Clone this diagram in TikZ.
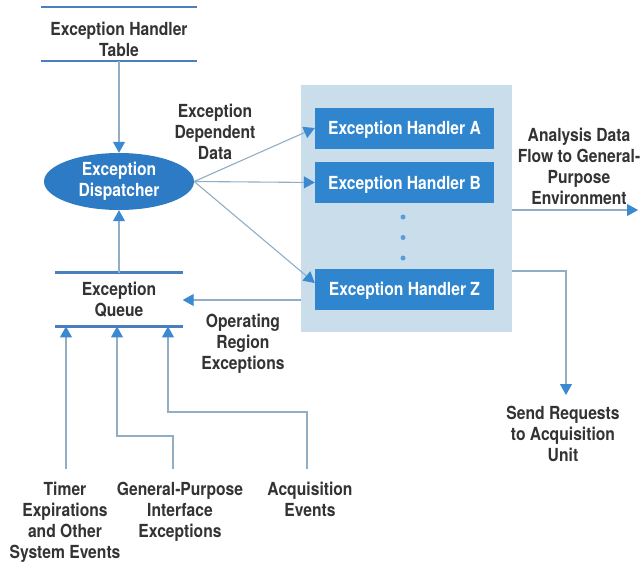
\documentclass[tikz,border=0pt]{standalone}
\usepackage{fontspec}
\setmainfont{TeX Gyre Heros}[FakeStretch=0.87]
\usetikzlibrary{arrows.meta,shapes.geometric,calc}
\definecolor{boxblue}{HTML}{2F86CF}
\definecolor{ellblue}{HTML}{2D7BC4}
\definecolor{panelcol}{HTML}{C9DDEA}
\definecolor{linecol}{HTML}{92AEC4}
\definecolor{arrowcol}{HTML}{3B8AD1}
\definecolor{rulecol}{HTML}{4A7EC1}
\definecolor{txt}{HTML}{333333}
\begin{document}
\begin{tikzpicture}[x=1pt,y=-1pt,
  lbl/.style={font=\fontsize{18}{21}\selectfont\bfseries, text=txt, align=center, inner sep=0pt, anchor=north},
  handler/.style={fill=boxblue, text=white, font=\fontsize{18}{21}\selectfont\bfseries, minimum width=179pt, minimum height=41pt, text height=13pt, text depth=0pt, inner sep=0pt},
  conn/.style={draw=linecol, line width=1.1pt},
  arr/.style={conn, -{Triangle[length=11pt,width=12pt,color=arrowcol]}},
  rulel/.style={draw=rulecol, line width=2.8pt},
  dotmark/.style={circle, fill=arrowcol!85, inner sep=0pt, minimum size=5pt}]

\useasboundingbox (0,0) rectangle (642,562);
\fill[white] (0,0) rectangle (642,562);

% panel and handlers
\node[fill=panelcol, minimum width=211pt, minimum height=247pt, inner sep=0pt] (panel) at (406.5,208.5) {};
\node[handler] (A) at (404.5,128) {Exception Handler A};
\node[handler] (B) at (404.5,182.5) {Exception Handler B};
\node[handler] (Z) at (404.5,289) {Exception Handler Z};
\node[dotmark] (d1) at (403,217) {};
\node[dotmark] (d2) at (403,237.5) {};
\node[dotmark] (d3) at (403,258) {};

% exception handler table
\node[lbl] (table) at (119,22) {Exception Handler\\Table};
\draw[rulel] (41,7) -- (197,7);
\draw[rulel] (41,61) -- (197,61);
\coordinate (tablebot) at (119,61);

% dispatcher
\node[ellipse, fill=ellblue, minimum width=150pt, minimum height=57pt, inner sep=0pt, text=white, font=\fontsize{18}{21}\selectfont\bfseries, align=center] (disp) at (119,181.5) {Exception\\Dispatcher};

% queue
\node[lbl, anchor=center, minimum width=127pt, minimum height=53.5pt] (queue) at (119,299.5) {Exception\\Queue};
\draw[rulel] (queue.north west) -- (queue.north east);
\draw[rulel] (queue.south west) -- (queue.south east);

% connectors
\draw[arr] (tablebot) -- (disp.north);
\draw[arr] (queue.north) -- (disp.south);
\draw[arr] (disp.east) -- (A.west);
\draw[arr] (disp.east) -- (B.west);
\draw[arr] (disp.east) -- ($(Z.west)+(0,-6)$);

\coordinate (opr) at (301,300);
\draw[arr] (opr) -- (queue.east |- opr);

% labels
\node[lbl] (edd) at (215,104) {Exception\\Dependent\\Data};
\node[lbl] (ore) at (243,314) {Operating\\Region\\Exceptions};
\node[lbl] (adf) at (579,128) {Analysis Data\\Flow to General-\\Purpose\\Environment};
\coordinate (adfstart) at (512,210);
\coordinate (adfend) at (638,210);
\draw[arr] (adfstart) -- (adfend);

\node[lbl] (srq) at (563,406) {Send Requests\\to Acquisition\\Unit};
\coordinate (srqstart) at (512,271);
\coordinate (srqbend) at (566,271);
\coordinate (srqend) at (566,395);
\draw[arr] (srqstart) -- (srqbend) -- (srqend);

% bottom inputs
\node[lbl] (timer) at (65,482) {Timer\\Expirations\\and Other\\System Events};
\node[lbl] (gpi) at (180,482) {General-Purpose\\Interface\\Exceptions};
\node[lbl] (acq) at (310,482) {Acquisition\\Events};

\coordinate (t0) at (66,469);
\draw[arr] (t0) -- (t0 |- queue.south);
\coordinate (g0) at (173,469);
\coordinate (g1) at (117,436);
\draw[arr] (g0) |- (g1) -- (g1 |- queue.south);
\coordinate (a0) at (307,469);
\coordinate (a1) at (168,412);
\draw[arr] (a0) |- (a1) -- (a1 |- queue.south);
\end{tikzpicture}
\end{document}
